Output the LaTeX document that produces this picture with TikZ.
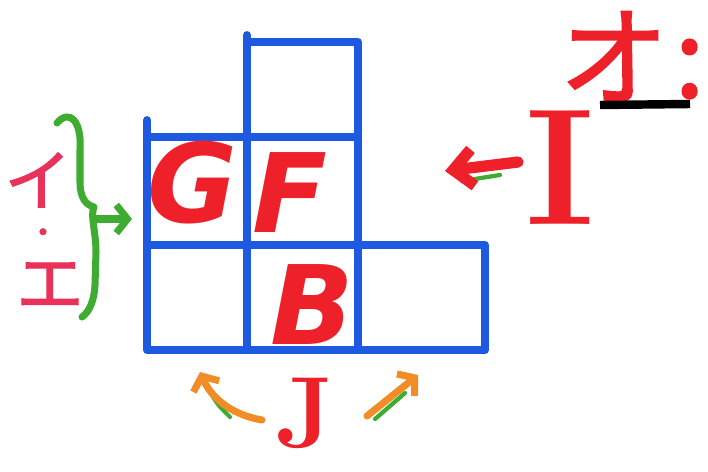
\documentclass[tikz,border=0pt]{standalone}
\usepackage{fontspec}
\newfontfamily\cjk[FakeBold=1.5]{Noto Sans CJK JP}
\newfontfamily\brush{DejaVu Sans}
\usetikzlibrary{arrows.meta, positioning}
\definecolor{penblue}{RGB}{30,90,225}
\definecolor{penred}{RGB}{238,32,42}
\definecolor{penpink}{RGB}{232,50,90}
\definecolor{pengreen}{RGB}{62,172,48}
\definecolor{penorange}{RGB}{242,140,38}
\tikzstyle{cell}=[draw=penblue,line width=5.5pt,rectangle,inner sep=0pt,outer sep=0pt,line join=round]
\tikzstyle{blueline}=[draw=penblue,line width=5.5pt,line cap=round]
\tikzstyle{pen}=[line width=5pt,line cap=round,line join=round]
\tikzstyle{letter}=[text=penred,inner sep=0pt,font=\brush\bfseries\itshape\fontsize{78}{78}\selectfont]
\tikzstyle{serif}=[text=penred,inner sep=0pt]
\tikzstyle{kana}=[text=penpink,inner sep=0pt,font=\cjk\fontsize{48}{48}\selectfont]

\begin{document}
\begin{tikzpicture}[x=0.025cm,y=-0.025cm,>={Straight Barb[length=8pt,width=20pt]}]
    \useasboundingbox (0,0) rectangle (708,472);
    % grid
    \node[cell, minimum width=2.5cm, minimum height=2.7cm] (gcell) at (197,191) {};
    \node[cell, minimum width=2.775cm, minimum height=2.7cm, right=0pt of gcell] (fcell) {};
    \node[cell, minimum width=2.775cm, minimum height=2.375cm, above=0pt of fcell] (topcell) {};
    \node[cell, minimum width=2.5cm, minimum height=2.625cm, below=0pt of gcell] (blcell) {};
    \node[cell, minimum width=2.775cm, minimum height=2.625cm, right=0pt of blcell] (bcell) {};
    \node[cell, minimum width=3.175cm, minimum height=2.625cm, right=0pt of bcell] (brcell) {};
    \draw[blueline] (gcell.north west) -- ++(0,-17);
    \draw[blueline] (topcell.north west) -- ++(0,-7);
    \node[letter] (G) at (193,183) {G};
    \node[letter] (F) at (290,193) {F};
    \node[letter] (B) at (312,305) {B};
    % left
    \node[kana] (i) at (38,180) {イ};
    \node[kana, font=\cjk\fontsize{22}{22}\selectfont] (dot) at (43,236) {・};
    \node[kana] (e) at (50,285) {エ};
    \coordinate (brtop) at (57,123);
    \coordinate (brtip) at (94,207);
    \coordinate (brbot) at (82,317);
    \draw[pen, pengreen] (brtop) .. controls (70,108) and (82,122) .. (80,150) -- (80,182)
        .. controls (80,198) and (86,205) .. (brtip)
        .. controls (90,215) and (96,232) .. (96,252) -- (95,285)
        .. controls (94,302) and (89,312) .. (brbot);
    \coordinate (garr) at (94,219);
    \coordinate (gend) at (132,219);
    \draw[pen, pengreen, ->] (garr) -- (gend);
    % right
    \node[text=penred, inner sep=0pt, font=\cjk\fontsize{78}{78}\selectfont] (o) at (632,56) {オ\kern4pt:};
    \coordinate (ul1) at (600,105);
    \coordinate (ul2) at (690,104);
    \draw[line width=6pt, black] (ul1) -- (ul2);
    \node[serif, font=\normalfont\bfseries\fontsize{118}{118}\selectfont] (I) at (560,168) {I};
    \coordinate (ia1) at (518,162);
    \coordinate (ia2) at (445,171);
    \draw[pen, pengreen, line width=3pt] (462,181) -- (500,175);
    \draw[pen, penred, line width=8pt, -{Straight Barb[length=14pt,width=26pt]}] (ia1) -- (ia2);
    % bottom
    \node[serif, font=\normalfont\bfseries\fontsize{72}{72}\selectfont] (J) at (305,413) {J};
    \coordinate (jl1) at (262,420);
    \coordinate (jl2) at (200,372);
    \coordinate (jr1) at (367,416);
    \coordinate (jr2) at (418,375);
    \draw[pen, pengreen, line width=3pt] (210,392) .. controls (218,405) .. (230,417);
    \draw[pen, pengreen, line width=3pt] (375,419) -- (405,393);
    \draw[pen, penorange, ->] (jl1) .. controls (228,414) and (210,395) .. (jl2);
    \draw[pen, penorange, ->] (jr1) -- (jr2);
\end{tikzpicture}
\end{document}
